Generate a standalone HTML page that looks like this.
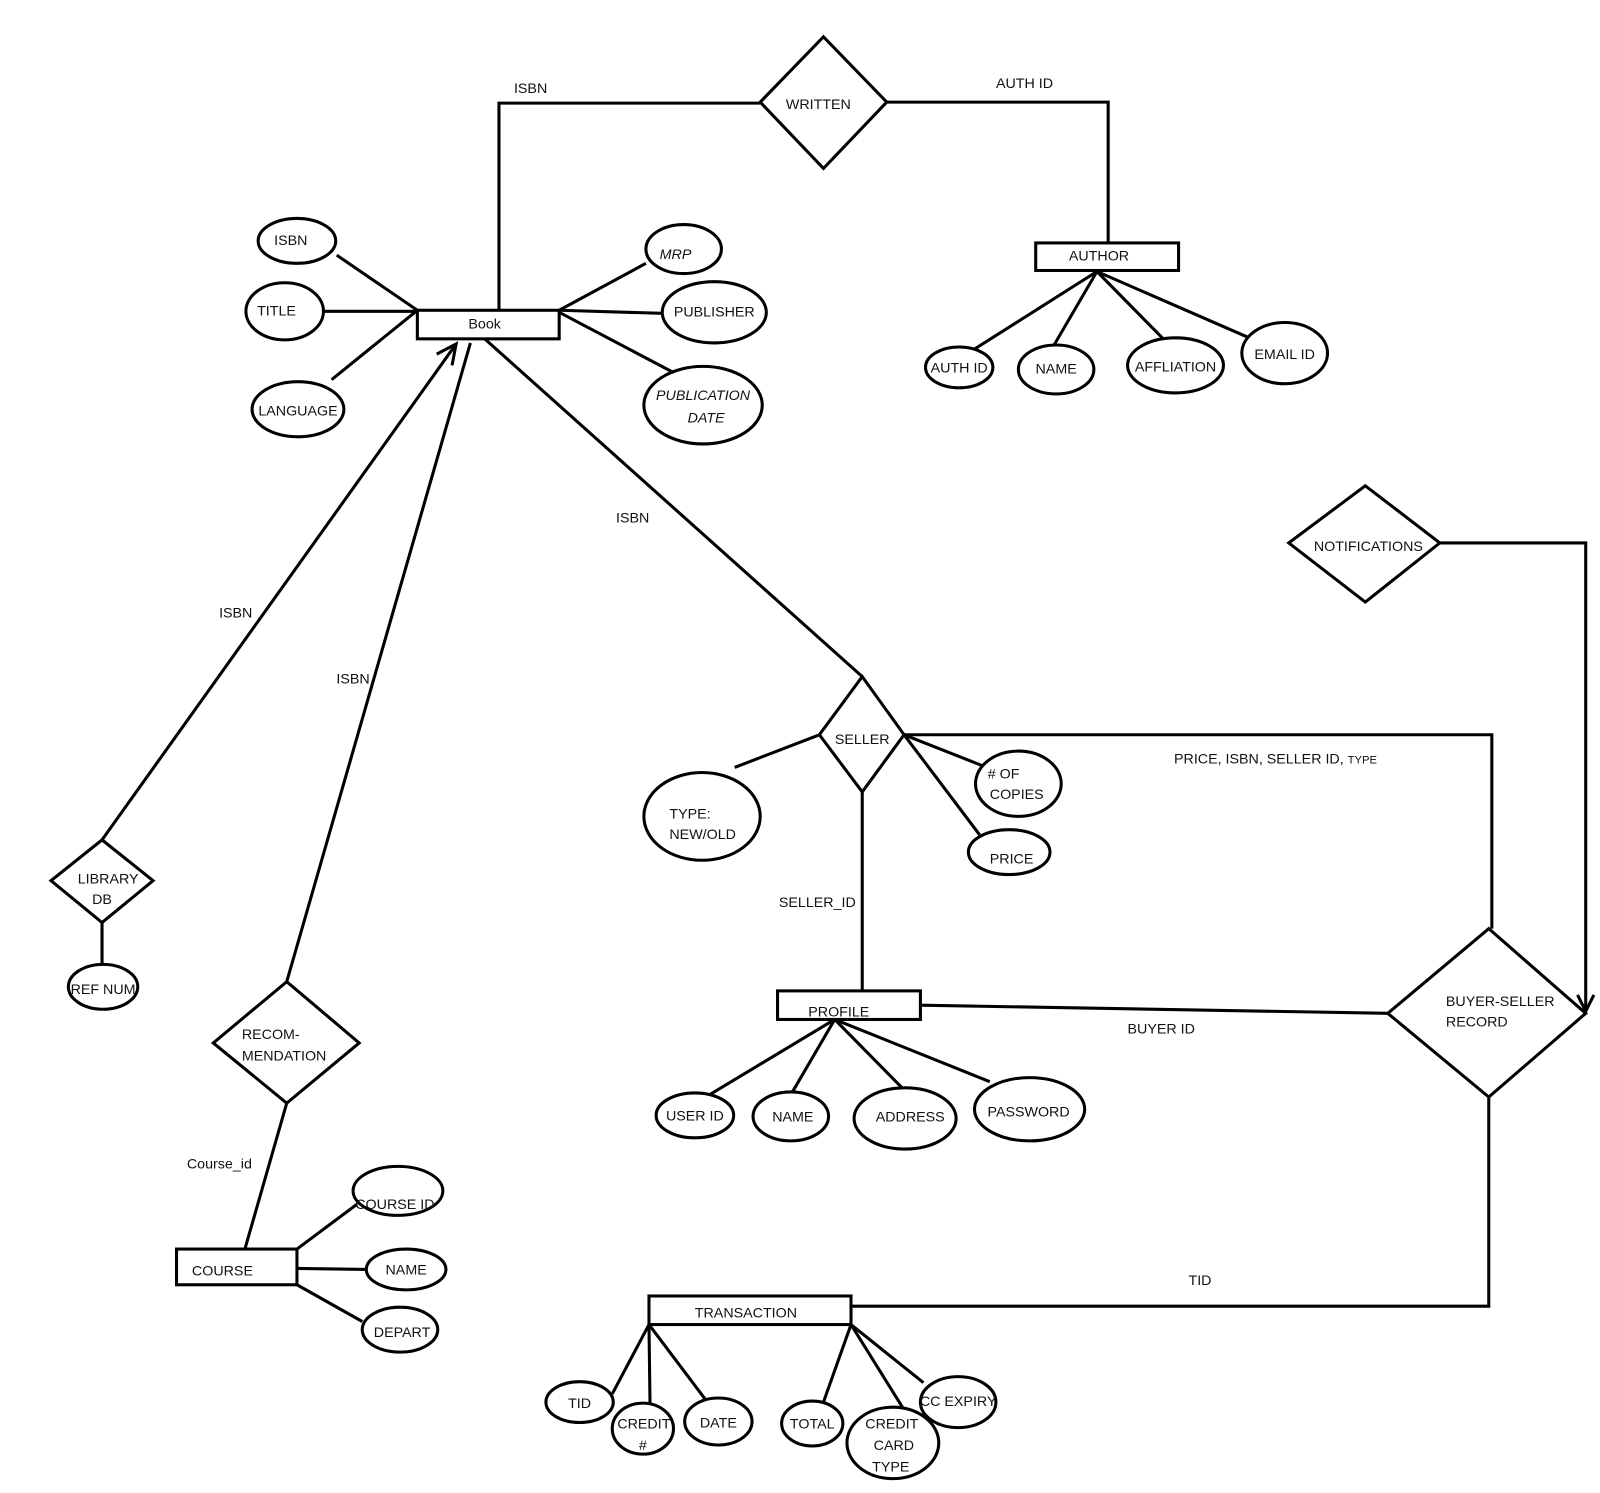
<!DOCTYPE html>
<html><head><meta charset="utf-8"><style>
html,body{margin:0;padding:0;background:#fff;}
svg{display:block;}
text{font-family:"Liberation Sans",sans-serif;font-size:14px;fill:#111;}
</style></head><body>
<svg width="1600" height="1493" viewBox="0 0 1568 1463" xmlns="http://www.w3.org/2000/svg">
<g fill="none" stroke="#000" stroke-width="3" stroke-linejoin="miter">
<!-- WRITTEN -->
<polygon points="807,36 869,100 807,165 745,100" fill="#fff"/>
<polyline points="745,101 489,101 489,304"/>
<polyline points="869,100 1086,100 1086,238"/>
<!-- AUTHOR -->
<rect x="1015" y="238" width="140" height="27" fill="#fff"/>
<line x1="1075" y1="266" x2="955" y2="342"/>
<line x1="1075" y1="266" x2="1033" y2="338"/>
<line x1="1075" y1="266" x2="1140" y2="332"/>
<line x1="1075" y1="266" x2="1222" y2="330"/>
<ellipse cx="940" cy="360" rx="33" ry="20"/>
<ellipse cx="1035" cy="362" rx="37" ry="24"/>
<ellipse cx="1152" cy="358" rx="47" ry="27"/>
<ellipse cx="1259" cy="346" rx="42" ry="30"/>
<!-- Book -->
<rect x="409" y="304" width="139" height="28" fill="#fff"/>
<line x1="330" y1="250" x2="409" y2="304"/>
<line x1="317" y1="305" x2="409" y2="305"/>
<line x1="325" y1="372" x2="409" y2="304"/>
<line x1="633" y1="258" x2="548" y2="304"/>
<line x1="548" y1="304" x2="649" y2="307"/>
<line x1="548" y1="306" x2="660" y2="365"/>
<ellipse cx="291" cy="236" rx="38" ry="22"/>
<ellipse cx="279" cy="305" rx="38" ry="28"/>
<ellipse cx="292" cy="401" rx="45" ry="27"/>
<ellipse cx="670" cy="244" rx="37" ry="24"/>
<ellipse cx="700" cy="306" rx="51" ry="30"/>
<ellipse cx="689" cy="397" rx="58" ry="38"/>
<line x1="475" y1="332" x2="845" y2="663"/>
<!-- SELLER -->
<polygon points="845,663 886,720 845,776 803,720" fill="#fff"/>
<line x1="720" y1="752" x2="803" y2="720"/>
<line x1="886" y1="720" x2="962" y2="750"/>
<line x1="886" y1="720" x2="960" y2="818"/>
<ellipse cx="688" cy="800" rx="57" ry="43"/>
<ellipse cx="998" cy="768" rx="42" ry="32"/>
<ellipse cx="989" cy="835" rx="40" ry="22"/>
<line x1="845" y1="776" x2="845" y2="971"/>
<polyline points="886,720 1462,720 1462,910"/>
<!-- PROFILE -->
<rect x="762" y="971" width="140" height="28" fill="#fff"/>
<line x1="818" y1="999" x2="695" y2="1073"/>
<line x1="818" y1="999" x2="776" y2="1071"/>
<line x1="818" y1="999" x2="884" y2="1066"/>
<line x1="818" y1="999" x2="970" y2="1060"/>
<ellipse cx="681" cy="1093" rx="38" ry="22"/>
<ellipse cx="775" cy="1094" rx="37" ry="24"/>
<ellipse cx="887" cy="1096" rx="50" ry="30"/>
<ellipse cx="1009" cy="1087" rx="54" ry="31"/>
<line x1="902" y1="985" x2="1360" y2="993"/>
<!-- BUYER-SELLER -->
<polygon points="1459,910 1554,993 1459,1075 1360,993" fill="#fff"/>
<!-- NOTIFICATIONS -->
<polygon points="1338,476 1411,532 1338,590 1263,532" fill="#fff"/>
<polyline points="1411,532 1554,532 1554,991"/>
<polyline points="1546,975 1554,991 1562,975"/>
<polyline points="1459,1075 1459,1280 834,1280"/>
<!-- TRANSACTION -->
<rect x="636" y="1270" width="198" height="28" fill="#fff"/>
<line x1="636" y1="1298" x2="600" y2="1366"/>
<line x1="636" y1="1298" x2="637" y2="1375"/>
<line x1="636" y1="1298" x2="691" y2="1371"/>
<line x1="834" y1="1298" x2="807" y2="1374"/>
<line x1="834" y1="1298" x2="885" y2="1380"/>
<line x1="834" y1="1298" x2="905" y2="1355"/>
<ellipse cx="568" cy="1374" rx="33" ry="20"/>
<ellipse cx="630" cy="1400" rx="30" ry="25"/>
<ellipse cx="704" cy="1393" rx="33" ry="23"/>
<ellipse cx="796" cy="1395" rx="30" ry="22"/>
<ellipse cx="875" cy="1414" rx="45" ry="35"/>
<ellipse cx="939" cy="1374" rx="37" ry="25"/>
<!-- LIBRARY DB -->
<line x1="100" y1="823" x2="447" y2="337"/>
<polyline points="428,347 447,337 443,358"/>
<polygon points="100,823 150,863 100,904 50,863" fill="#fff"/>
<line x1="100" y1="904" x2="100" y2="945"/>
<ellipse cx="101" cy="967" rx="34" ry="22"/>
<!-- RECOMMENDATION -->
<line x1="281" y1="962" x2="461" y2="336"/>
<polygon points="281,962 352,1022 281,1081 209,1022" fill="#fff"/>
<line x1="281" y1="1081" x2="240" y2="1224"/>
<!-- COURSE -->
<rect x="173" y="1224" width="118" height="35" fill="#fff"/>
<line x1="291" y1="1224" x2="350" y2="1180"/>
<line x1="291" y1="1243" x2="359" y2="1244"/>
<line x1="291" y1="1259" x2="355" y2="1295"/>
<ellipse cx="390" cy="1167" rx="44" ry="24"/>
<ellipse cx="398" cy="1244" rx="39" ry="20"/>
<ellipse cx="392" cy="1303" rx="37" ry="22"/>
</g>
<g text-anchor="middle">
<text x="802" y="107">WRITTEN</text>
<text x="520" y="91" font-size="12">ISBN</text>
<text x="1004" y="86" font-size="12">AUTH ID</text>
<text x="1077" y="255">AUTHOR</text>
<text x="940" y="365">AUTH ID</text>
<text x="1035" y="366">NAME</text>
<text x="1152" y="364">AFFLIATION</text>
<text x="1259" y="352">EMAIL ID</text>
<text x="475" y="322" font-size="16">Book</text>
<text x="285" y="240">ISBN</text>
<text x="271" y="309">TITLE</text>
<text x="292" y="407">LANGUAGE</text>
<text x="662" y="254" font-style="italic">MRP</text>
<text x="700" y="310">PUBLISHER</text>
<text x="689" y="392" font-style="italic">PUBLICATION</text>
<text x="692" y="414" font-style="italic">DATE</text>
<text x="620" y="512">ISBN</text>
<text x="231" y="605">ISBN</text>
<text x="346" y="670">ISBN</text>
<text x="845" y="729">SELLER</text>
<text x="690" y="801" text-anchor="end" dx="-3"> </text>
<text x="1250" y="748" font-size="13">PRICE, ISBN, SELLER ID, <tspan font-size="11">TYPE</tspan></text>
<text x="801" y="889">SELLER_ID</text>
<text x="822" y="996">PROFILE</text>
<text x="681" y="1098">USER ID</text>
<text x="777" y="1099">NAME</text>
<text x="892" y="1099">ADDRESS</text>
<text x="1008" y="1094">PASSWORD</text>
<text x="1138" y="1013">BUYER ID</text>
<text x="1341" y="540">NOTIFICATIONS</text>
<text x="1176" y="1259">TID</text>
<text x="731" y="1291">TRANSACTION</text>
<text x="568" y="1380">TID</text>
<text x="631" y="1400">CREDIT</text>
<text x="630" y="1421">#</text>
<text x="704" y="1399">DATE</text>
<text x="796" y="1400">TOTAL</text>
<text x="874" y="1400">CREDIT</text>
<text x="876" y="1421">CARD</text>
<text x="873" y="1442">TYPE</text>
<text x="939" y="1378">CC EXPIRY</text>
<text x="106" y="866">LIBRARY</text>
<text x="100" y="886">DB</text>
<text x="101" y="974">REF NUM</text>
<text x="215" y="1145">Course_id</text>
<text x="218" y="1250">COURSE</text>
<text x="387" y="1185">COURSE ID</text>
<text x="398" y="1249">NAME</text>
<text x="394" y="1310">DEPART</text>
</g>
<g text-anchor="start">
<text x="656" y="802">TYPE:</text>
<text x="656" y="822">NEW/OLD</text>
<text x="968" y="763">&#35; OF</text>
<text x="970" y="783">COPIES</text>
<text x="970" y="846">PRICE</text>
<text x="1417" y="986">BUYER-SELLER</text>
<text x="1417" y="1006">RECORD</text>
<text x="237" y="1018">RECOM-</text>
<text x="237" y="1039">MENDATION</text>
</g>
</svg>
</body></html>
